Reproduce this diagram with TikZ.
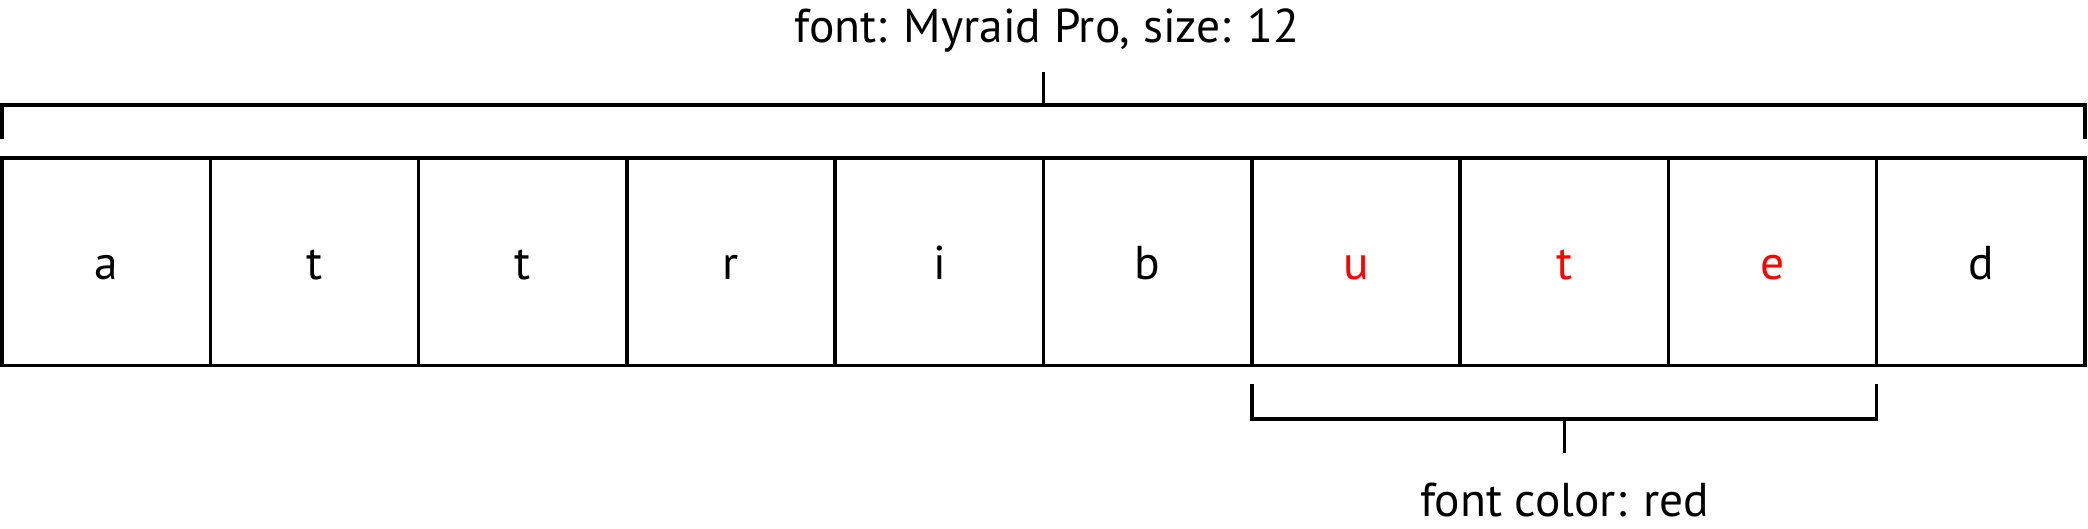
\documentclass[tikz,border=0pt]{standalone}
\usepackage{fontspec}
\setmainfont{PT Sans}
\usetikzlibrary{positioning}
\tikzset{
  cell/.style={draw, line width=1pt, minimum width=2.083cm, minimum height=2.075cm,
    inner sep=0pt, outer sep=0pt, text height=0.36cm, text depth=0pt},
  brace/.style={line width=1pt},
  note/.style={anchor=base, inner sep=0pt}
}

\begin{document}
\begin{tikzpicture}[every node/.style={font=\fontsize{13.5}{16}\selectfont}]
\useasboundingbox (0,0) rectangle (20.88,5.29);

% --- cells ---
\foreach \i/\ch/\col in {0/a/black,1/t/black,2/t/black,3/r/black,4/i/black,
                         5/b/black,6/u/red,7/t/red,8/e/red,9/d/black} {
  \node[cell, text=\col] (c\i) at (1.0615+2.083*\i,2.6725) {\ch};
}

% --- top brace ---
\node[note] (toplbl) at (10.47,4.86) {font: Myraid Pro, size: 12};
\draw[brace] ([yshift=1.9mm]c0.north west) -- ([yshift=5.3mm]c0.north west)
  -- ([yshift=5.3mm]c9.north east) -- ([yshift=1.9mm]c9.north east);
\draw[brace] ([yshift=5.3mm]c4.north east) -- ([yshift=8.6mm]c4.north east);

% --- bottom brace ---
\node[note] (botlbl) at (15.645,0.12) {font color: red};
\draw[brace] ([yshift=-1.85mm]c6.south west) -- ([yshift=-5.35mm]c6.south west)
  -- ([yshift=-5.35mm]c8.south east) -- ([yshift=-1.85mm]c8.south east);
\coordinate (botmid) at ([yshift=-5.35mm]c7.south);
\draw[brace] (botmid) -- ++(0,-0.34);

\end{tikzpicture}
\end{document}
